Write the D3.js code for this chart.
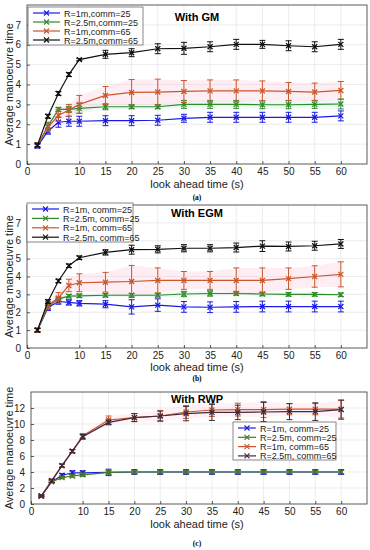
<!DOCTYPE html>
<html>
<head>
<meta charset="utf-8">
<script src="https://cdn.jsdelivr.net/npm/d3@7"></script>
<style>
  body { margin: 0; background: #fff; }
  svg { font-family: "Liberation Sans", Arial, sans-serif; }
  .grid line { stroke: #e4e4e4; stroke-width: 0.7; }
  .axis text { font-size: 10px; fill: #222; }
  .axis path, .axis line { stroke: #333; stroke-width: 0.8; }
</style>
</head>
<body>
<script>
var width = 370, height = 550;

// look ahead time (s)
var xs = [2, 4, 6, 8, 10, 15, 20, 25, 30, 35, 40, 45, 50, 55, 60];
var xTicks = [0, 10, 15, 20, 25, 30, 35, 40, 45, 50, 55, 60];

// (a) With GM
var gmR1c25 = [0.9, 1.65, 2.1, 2.15, 2.15, 2.18, 2.18, 2.2, 2.3, 2.35, 2.35, 2.35, 2.35, 2.35, 2.42];
var gmR1c25Err = [0.1, 0.15, 0.25, 0.25, 0.25, 0.25, 0.25, 0.25, 0.2, 0.25, 0.25, 0.25, 0.25, 0.25, 0.25];
var gmR25c25 = [0.95, 1.9, 2.75, 2.75, 2.8, 2.88, 2.88, 2.88, 3.0, 3.0, 3.0, 2.98, 2.98, 3.0, 3.02];
var gmR25c25Err = [0.1, 0.2, 0.1, 0.15, 0.25, 0.15, 0.1, 0.1, 0.2, 0.2, 0.2, 0.2, 0.2, 0.2, 0.25];
var gmR1c65 = [0.95, 1.85, 2.45, 2.7, 3.0, 3.45, 3.6, 3.62, 3.65, 3.68, 3.68, 3.68, 3.65, 3.62, 3.7];
var gmR1c65Err = [0.1, 0.2, 0.3, 0.3, 0.45, 0.45, 0.65, 0.65, 0.55, 0.55, 0.55, 0.5, 0.45, 0.45, 0.45];
var gmR25c65 = [0.95, 2.4, 3.55, 4.5, 5.25, 5.52, 5.6, 5.8, 5.82, 5.9, 6.02, 6.02, 5.95, 5.9, 6.02];
var gmR25c65Err = [0.1, 0.1, 0.1, 0.1, 0.05, 0.2, 0.2, 0.25, 0.3, 0.25, 0.25, 0.2, 0.25, 0.25, 0.25];

// (b) With EGM
var egmR1c25 = [1.0, 2.25, 2.6, 2.55, 2.5, 2.45, 2.3, 2.4, 2.3, 2.28, 2.3, 2.32, 2.32, 2.32, 2.32];
var egmR1c25Err = [0.1, 0.15, 0.15, 0.15, 0.15, 0.2, 0.4, 0.35, 0.3, 0.3, 0.3, 0.3, 0.3, 0.3, 0.3];
var egmR25c25 = [1.0, 2.3, 2.75, 2.9, 2.92, 2.95, 2.95, 2.95, 3.02, 3.05, 3.05, 3.02, 3.0, 3.0, 2.98];
var egmR25c25Err = [0.1, 0.1, 0.1, 0.1, 0.1, 0.1, 0.1, 0.1, 0.15, 0.15, 0.1, 0.1, 0.1, 0.1, 0.1];
var egmR1c65 = [1.0, 2.4, 2.8, 3.5, 3.65, 3.68, 3.72, 3.78, 3.78, 3.78, 3.78, 3.78, 3.88, 4.0, 4.12];
var egmR1c65Err = [0.1, 0.2, 0.3, 0.35, 0.5, 0.55, 0.9, 0.7, 0.5, 0.5, 0.7, 0.7, 0.6, 0.6, 0.7];
var egmR25c65 = [1.0, 2.6, 3.75, 4.6, 5.05, 5.35, 5.5, 5.52, 5.58, 5.58, 5.62, 5.7, 5.68, 5.72, 5.82];
var egmR25c65Err = [0.1, 0.1, 0.1, 0.1, 0.1, 0.15, 0.25, 0.2, 0.2, 0.2, 0.25, 0.3, 0.25, 0.25, 0.25];

// (c) With RWP
var rwpR1c25 = [1.0, 2.8, 3.6, 3.9, 3.9, 3.95, 4.0, 4.0, 4.0, 4.0, 4.0, 4.0, 4.0, 4.0, 4.0];
var rwpR1c25Err = [0.1, 0.15, 0.2, 0.25, 0.25, 0.4, 0.3, 0.3, 0.3, 0.3, 0.3, 0.3, 0.3, 0.3, 0.3];
var rwpR25c25 = [1.0, 2.8, 3.3, 3.5, 3.65, 3.95, 4.0, 4.0, 4.0, 4.0, 4.0, 4.0, 4.0, 4.0, 4.0];
var rwpR25c25Err = [0.1, 0.1, 0.15, 0.15, 0.2, 0.2, 0.2, 0.2, 0.2, 0.2, 0.2, 0.2, 0.2, 0.2, 0.2];
var rwpR1c65 = [1.0, 2.9, 4.8, 6.6, 8.5, 10.5, 10.8, 11.0, 11.5, 11.75, 11.8, 11.8, 11.85, 11.85, 11.85];
var rwpR1c65Err = [0.1, 0.2, 0.2, 0.2, 0.3, 0.5, 0.5, 0.7, 0.8, 0.8, 0.8, 1.0, 0.7, 0.7, 1.1];
var rwpR25c65 = [1.0, 2.9, 4.8, 6.6, 8.4, 10.2, 10.8, 11.0, 11.3, 11.45, 11.45, 11.5, 11.55, 11.55, 11.8];
var rwpR25c65Err = [0.1, 0.2, 0.2, 0.2, 0.3, 0.3, 0.5, 0.6, 0.9, 1.0, 0.9, 1.2, 1.0, 1.1, 1.2];

var namesA = ["R=1m,comm=25", "R=2.5m,comm=25", "R=1m,comm=65", "R=2.5m,comm=65"];
var namesB = ["R=1m, comm=25", "R=2.5m, comm=25", "R=1m, comm=65", "R=2.5m, comm=65"];

var svg = d3.select("body").append("svg")
    .attr("width", width)
    .attr("height", height);

function cross(cx, cy, r) {
  return "M" + (cx - r) + "," + (cy - r) + "L" + (cx + r) + "," + (cy + r) +
         "M" + (cx - r) + "," + (cy + r) + "L" + (cx + r) + "," + (cy - r);
}

function panel(cfg) {
  var x = d3.scaleLinear().domain([0, 65]).range([cfg.left, 367]);
  var y = d3.scaleLinear().domain(cfg.yDomain).range([cfg.bottom, cfg.top]);
  var g = svg.append("g");

  // grid
  var grid = g.append("g").attr("class", "grid");
  grid.selectAll(".gx").data(xTicks.filter(d => d > 0)).enter().append("line")
      .attr("x1", d => x(d)).attr("x2", d => x(d))
      .attr("y1", cfg.top).attr("y2", cfg.bottom);
  grid.selectAll(".gy").data(cfg.yTicks.filter(d => d > 0)).enter().append("line")
      .attr("x1", cfg.left).attr("x2", 367)
      .attr("y1", d => y(d)).attr("y2", d => y(d));

  // box
  g.append("rect")
      .attr("x", cfg.left).attr("y", cfg.top)
      .attr("width", 367 - cfg.left).attr("height", cfg.bottom - cfg.top)
      .attr("fill", "none").attr("stroke", "#333").attr("stroke-width", 0.8);

  g.append("g").attr("class", "axis")
      .attr("transform", "translate(0," + cfg.bottom + ")")
      .call(d3.axisBottom(x).tickValues(xTicks).tickSize(-3).tickPadding(4))
      .call(a => a.select(".domain").remove());
  g.append("g").attr("class", "axis")
      .attr("transform", "translate(" + cfg.left + ",0)")
      .call(d3.axisLeft(y).tickValues(cfg.yTicks).tickSize(-3).tickPadding(6))
      .call(a => a.select(".domain").remove());

  // shaded bands behind some series
  cfg.series.forEach(function(s) {
    if (!s.band) return;
    var area = d3.area()
        .x((d, i) => x(xs[i]))
        .y0((d, i) => y(d - s.err[i]))
        .y1((d, i) => y(d + s.err[i]));
    g.append("path").datum(s.vals)
        .attr("d", area)
        .attr("fill", s.band).attr("opacity", 0.3);
  });

  var line = d3.line().x((d, i) => x(xs[i])).y(d => y(d));

  cfg.series.forEach(function(s) {
    var sg = g.append("g");
    sg.append("path").datum(s.vals)
        .attr("d", line)
        .attr("fill", "none").attr("stroke", s.color).attr("stroke-width", 1.2);
    s.vals.forEach(function(v, i) {
      var cx = x(xs[i]), lo = y(v - s.err[i]), hi = y(v + s.err[i]);
      sg.append("path")
          .attr("d", "M" + cx + "," + lo + "V" + hi +
                     "M" + (cx - 3) + "," + lo + "H" + (cx + 3) +
                     "M" + (cx - 3) + "," + hi + "H" + (cx + 3))
          .attr("stroke", s.color).attr("stroke-width", 1).attr("fill", "none");
      sg.append("path")
          .attr("d", cross(cx, y(v), 2.5))
          .attr("stroke", s.color).attr("stroke-width", 1.3);
    });
  });

  // title
  g.append("text")
      .attr("x", 197).attr("y", cfg.titleY)
      .attr("text-anchor", "middle")
      .attr("font-size", 11).attr("font-weight", "bold")
      .text(cfg.title);

  // legend
  var L = cfg.legend;
  var lg = g.append("g");
  lg.append("rect")
      .attr("x", L.x).attr("y", L.y).attr("width", L.w).attr("height", L.h)
      .attr("fill", "#fff").attr("stroke", "#555").attr("stroke-width", 0.7);
  cfg.series.forEach(function(s, i) {
    var ly = L.y + 6 + i * L.step;
    lg.append("line")
        .attr("x1", L.x + 5).attr("x2", L.x + 5 + L.len)
        .attr("y1", ly).attr("y2", ly)
        .attr("stroke", s.color).attr("stroke-width", 1.2);
    lg.append("path")
        .attr("d", cross(L.x + 5 + L.len / 2, ly, 2.5))
        .attr("stroke", s.color).attr("stroke-width", 1.2);
    lg.append("text")
        .attr("x", L.x + 9 + L.len).attr("y", ly + 3.5)
        .attr("font-size", 9).attr("fill", "#222")
        .text(s.name);
  });

  // axis labels
  g.append("text")
      .attr("transform", "translate(13," + ((cfg.top + cfg.bottom) / 2) + ") rotate(-90)")
      .attr("text-anchor", "middle")
      .attr("font-size", 11).attr("fill", "#222")
      .text("Average manoeuvre time");
  g.append("text")
      .attr("x", 197).attr("y", cfg.xLabY)
      .attr("text-anchor", "middle")
      .attr("font-size", 11).attr("fill", "#222")
      .text("look ahead time (s)");
  g.append("text")
      .attr("x", 197).attr("y", cfg.capY)
      .attr("text-anchor", "middle")
      .attr("font-size", 7.5).attr("font-weight", "bold")
      .attr("font-family", "Liberation Serif, serif")
      .text(cfg.caption);
}

var blue = "#1a1ae6", green = "#2f8a2a", orange = "#c8582c", black = "#111";

panel({
  top: 5, bottom: 164, left: 27, yDomain: [0, 8], yTicks: [0, 1, 2, 3, 4, 5, 6, 7],
  title: "With GM", titleY: 21, caption: "(a)", capY: 200, xLabY: 188,
  legend: { x: 28, y: 7, w: 115, h: 38, step: 9, len: 27 },
  series: [
    { name: namesA[0], color: blue, vals: gmR1c25, err: gmR1c25Err },
    { name: namesA[1], color: green, vals: gmR25c25, err: gmR25c25Err, band: "#bff2dc" },
    { name: namesA[2], color: orange, vals: gmR1c65, err: gmR1c65Err, band: "#ffc4dc" },
    { name: namesA[3], color: black, vals: gmR25c65, err: gmR25c65Err }
  ]
});

panel({
  top: 205, bottom: 348, left: 27, yDomain: [0, 8], yTicks: [0, 1, 2, 3, 4, 5, 6, 7],
  title: "With EGM", titleY: 217, caption: "(b)", capY: 381, xLabY: 371,
  legend: { x: 27, y: 203, w: 106, h: 39, step: 9.4, len: 27 },
  series: [
    { name: namesB[0], color: blue, vals: egmR1c25, err: egmR1c25Err },
    { name: namesB[1], color: green, vals: egmR25c25, err: egmR25c25Err, band: "#bff2dc" },
    { name: namesB[2], color: orange, vals: egmR1c65, err: egmR1c65Err, band: "#ffc4dc" },
    { name: namesB[3], color: black, vals: egmR25c65, err: egmR25c65Err }
  ]
});

panel({
  top: 392, bottom: 504, left: 31, yDomain: [0, 14], yTicks: [0, 2, 4, 6, 8, 10, 12],
  title: "With RWP", titleY: 403, caption: "(c)", capY: 546, xLabY: 528,
  legend: { x: 233, y: 422, w: 103, h: 38, step: 9.3, len: 18 },
  series: [
    { name: namesB[0], color: blue, vals: rwpR1c25, err: rwpR1c25Err },
    { name: namesB[1], color: "#4a7a22", vals: rwpR25c25, err: rwpR25c25Err, band: "#c8f4e4" },
    { name: namesB[2], color: orange, vals: rwpR1c65, err: rwpR1c65Err, band: "#ffd0e0" },
    { name: namesB[3], color: "#3e2a38", vals: rwpR25c65, err: rwpR25c65Err }
  ]
});
</script>
</body>
</html>
